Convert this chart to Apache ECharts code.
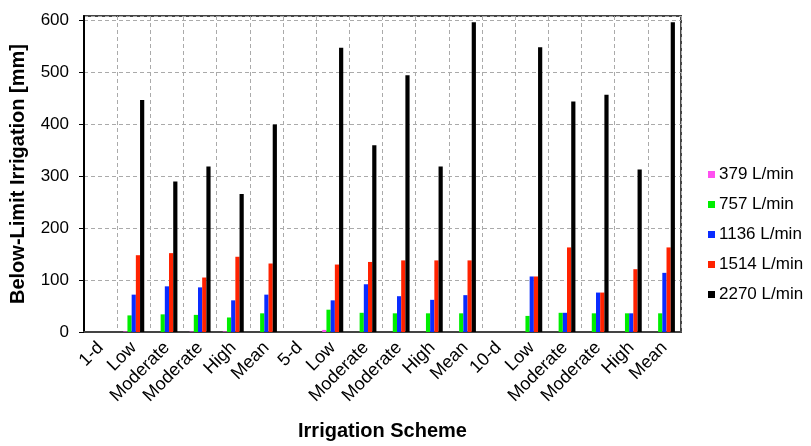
<!DOCTYPE html>
<html>
<head>
<meta charset="utf-8">
<script src="https://cdn.jsdelivr.net/npm/echarts@6/dist/echarts.min.js"></script>
<style>
  html, body { margin: 0; padding: 0; background: #fff; }
  #chart { width: 811px; height: 446px; }
</style>
</head>
<body>
<div id="chart"></div>
<script>
// Irrigation schemes along the x axis
const categories = ['1-d', 'Low', 'Moderate', 'Moderate', 'High', 'Mean',
                    '5-d', 'Low', 'Moderate', 'Moderate', 'High', 'Mean',
                    '10-d', 'Low', 'Moderate', 'Moderate', 'High', 'Mean'];

// Below-limit irrigation [mm] per pumping rate
const flow379  = [0, 1, 0, 1, 1, 0,   0, 4, 0, 0, 0, 0,   0, 0, 0, 0, 0, 0];
const flow757  = [0, 32, 34, 33, 28, 36,   0, 43, 37, 36, 36, 36,   0, 31, 37, 36, 36, 36];
const flow1136 = [0, 72, 88, 86, 61, 72,   0, 61, 92, 69, 62, 71,   0, 107, 37, 76, 36, 114];
const flow1514 = [0, 148, 152, 105, 145, 132,   0, 130, 135, 138, 138, 138,   0, 107, 163, 76, 121, 163];
const flow2270 = [0, 447, 290, 319, 266, 400,   0, 548, 360, 495, 319, 597,   0, 549, 444, 457, 313, 597];

const seriesNames = ['379 L/min', '757 L/min', '1136 L/min', '1514 L/min', '2270 L/min'];
const seriesData = [flow379, flow757, flow1136, flow1514, flow2270];
const colors = ['#ff50f0', '#00ee00', '#0a2cff', '#ff2200', '#000000'];

const font = 'Liberation Sans, Arial, Helvetica, sans-serif';
const chart = echarts.init(document.getElementById('chart'));

chart.setOption({
  animation: false,
  color: colors,
  textStyle: { fontFamily: font },
  grid: {
    left: 83, right: 130, top: 16, bottom: 110,
    show: true, borderColor: '#444', borderWidth: 2
  },
  legend: {
    orient: 'vertical',
    left: 703, top: 161,
    itemWidth: 7, itemHeight: 7, itemGap: 13,
    icon: 'rect',
    textStyle: { fontFamily: font, fontSize: 17, color: '#000', padding: [0, 0, 0, -1] },
    data: seriesNames
  },
  xAxis: {
    type: 'category',
    data: categories,
    name: 'Irrigation Scheme',
    nameLocation: 'middle',
    nameGap: 89,
    nameTextStyle: { fontFamily: font, fontSize: 20, fontWeight: 'bold', color: '#000' },
    axisLine: { lineStyle: { color: '#444', width: 2 } },
    axisTick: { show: false },
    axisLabel: { rotate: 45, fontSize: 18, color: '#000', interval: 0, margin: 13 },
    splitLine: { show: true, interval: 0, lineStyle: { color: '#aaa', type: [4, 3], width: 1 } }
  },
  yAxis: {
    type: 'value',
    min: 0, max: 609, interval: 100,
    name: 'Below-Limit Irrigation [mm]',
    nameLocation: 'middle',
    nameGap: 56,
    nameTextStyle: { fontFamily: font, fontSize: 20, fontWeight: 'bold', color: '#000' },
    axisLine: { show: true, lineStyle: { color: '#000', width: 2 } },
    axisTick: { show: true, inside: false, length: 5, lineStyle: { color: '#000' } },
    axisLabel: { fontSize: 17, color: '#000', margin: 15, showMaxLabel: false },
    splitLine: { show: true, lineStyle: { color: '#aaa', type: [4, 3], width: 1 } }
  },
  series: seriesNames.map((name, i) => ({
    name: name,
    type: 'bar',
    data: seriesData[i],
    barWidth: 4.2,
    barGap: '0%',
    itemStyle: { color: colors[i] }
  }))
});
</script>
</body>
</html>
